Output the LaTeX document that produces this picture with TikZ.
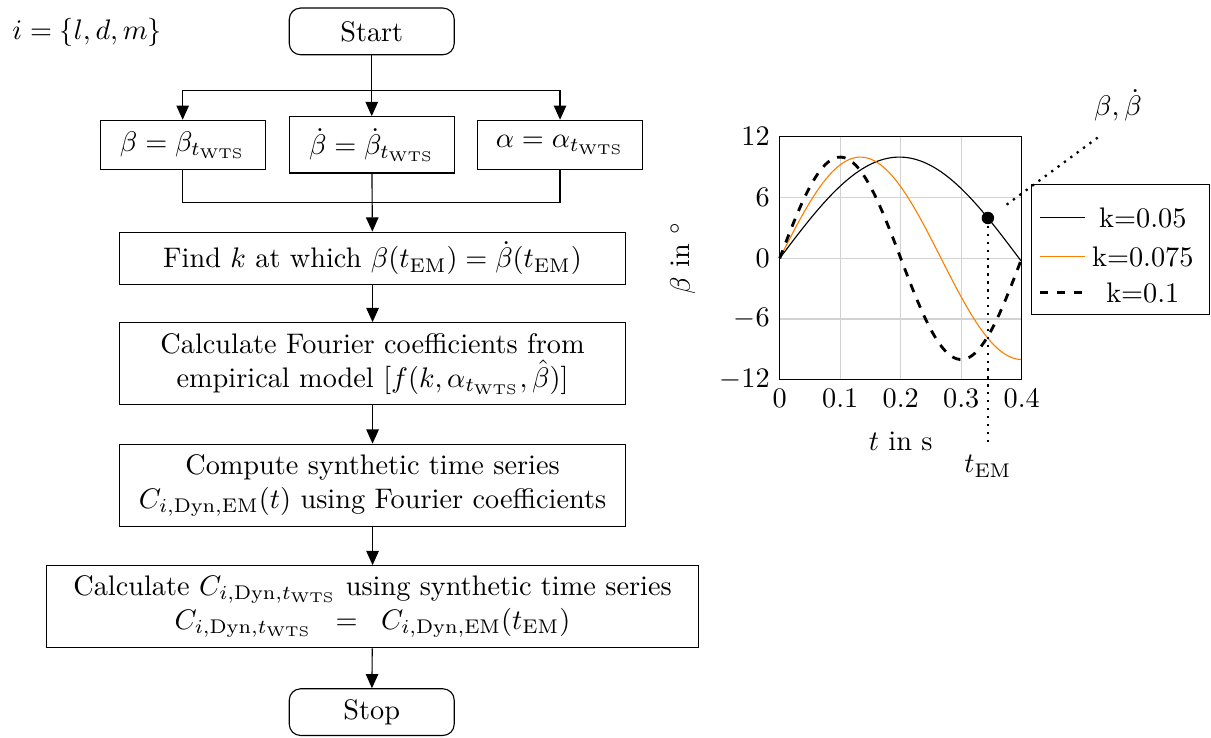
\documentclass[tikz,border=0pt]{standalone}
\usepackage{amsmath,amssymb}
\usetikzlibrary{arrows.meta}
\begin{document}
\begin{tikzpicture}[>={Triangle[length=5pt,width=4.4pt]},
 blk/.style={draw,align=center,minimum width=6.28cm,minimum height=1.02cm},
 term/.style={draw,rounded corners=4pt,minimum width=2.05cm,minimum height=.58cm},
 var/.style={draw,minimum width=2.05cm,minimum height=.61cm},
 pointer/.style={thick,dotted}]
\useasboundingbox(0,0)rectangle(15.05,-9.17);
\node[anchor=west](iset)at(.03,-.4){$i=\{l,d,m\}$};
\node[term](start)at(4.62,-.39){Start};
\coordinate(split)at(4.62,-1.12);\coordinate(merge)at(4.62,-2.52);
\node[var](b1)at(2.27,-1.8){$\beta=\beta_{t_\mathrm{WTS}}$};
\node[var,minimum height=.7cm](b2)at(4.62,-1.8){$\dot\beta=\dot\beta_{t_\mathrm{WTS}}$};
\node[var](b3)at(6.96,-1.8){$\alpha=\alpha_{t_\mathrm{WTS}}$};
\node[blk,minimum height=.65cm](find)at(4.63,-3.21){Find $k$ at which $\beta(t_\mathrm{EM})=\dot\beta(t_\mathrm{EM})$};
\node[blk](calc)at(4.63,-4.52){Calculate Fourier coefficients from\\empirical model $[f(k,\alpha_{t_\mathrm{WTS}},\hat\beta)]$};
\node[blk](comp)at(4.63,-6.03){Compute synthetic time series\\$C_{i,\mathrm{Dyn},\mathrm{EM}}(t)$ using Fourier coefficients};
\node[blk,minimum width=8.1cm](cwts)at(4.63,-7.54){Calculate $C_{i,\mathrm{Dyn},t_\mathrm{WTS}}$ using synthetic time series\\$C_{i,\mathrm{Dyn},t_\mathrm{WTS}}\;\;=\;\;C_{i,\mathrm{Dyn},\mathrm{EM}}(t_\mathrm{EM})$};
\node[term](stop)at(4.62,-8.85){Stop};
\draw(start)--(split);\draw[->](split)--(b2);\draw[->](split)-|(b1);\draw[->](split)-|(b3);
\draw(b1)|-(merge);\draw(b3)|-(merge);\draw[->](b2)--(find);
\draw[->](find)--(calc);\draw[->](calc)--(comp);\draw[->](comp)--(cwts);\draw[->](cwts)--(stop);
\begin{scope}[shift={(9.69,-3.21)},x=7.52cm,y=.1258cm]
\foreach\t in{.1,.2,.3}\draw[gray!35](\t,-12)--(\t,12);
\foreach\b in{-6,0,6}\draw[gray!35](0,\b)--(.4,\b);
\draw(0,-12)rectangle(.4,12);
\foreach\t in{0,0.1,0.2,0.3,0.4}\node[below]at(\t,-12){$\t$};
\foreach\b in{-12,-6,0,6,12}\node[left]at(0,\b){$\b$};
\node[below](xlbl)at(.2,-16.2){$t$ in s};
\node[rotate=90](ylbl)at(-.16,0){$\beta$ in $^\circ$};
\draw plot[domain=0:.4,samples=80](\x,{10*sin(455*\x)});
\draw[orange]plot[domain=0:.4,samples=80](\x,{10*sin(675*\x)});
\draw[dashed,line width=1pt]plot[domain=0:.4,samples=80](\x,{10*sin(900*\x)});
\coordinate(tem)at(.344,{10*sin(.344*455)});\coordinate(temend)at(.344,-18.5);
\fill(tem)circle(2.2pt);
\draw[pointer](tem)--(temend);\node[below](teml)at(temend){$t_\mathrm{EM}$};
\coordinate(ptr)at(.375,5.3);\coordinate(ptrend)at(.526,11.95);
\draw[pointer](ptr)--(ptrend);\node(blbl)at(.559,15.1){$\beta,\dot\beta$};
\node[draw,minimum width=2.22cm,minimum height=1.62cm](leg)at(.563,.85){};
\draw(.43,4)--(.504,4);\node(l1)at(.6,4){k=0.05};
\draw[orange](.43,.15)--(.504,.15);\node(l2)at(.6,.15){k=0.075};
\draw[dashed,line width=1pt](.43,-3.4)--(.504,-3.4);\node(l3)at(.6,-3.4){k=0.1};
\end{scope}
\end{tikzpicture}
\end{document}
